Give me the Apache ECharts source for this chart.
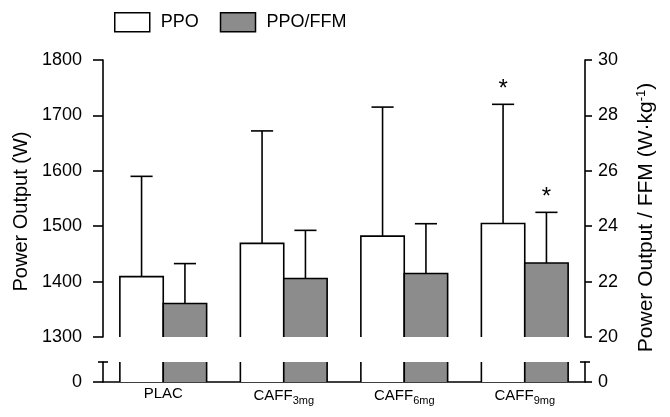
<!DOCTYPE html>
<html><head><meta charset="utf-8">
<script src="https://cdn.jsdelivr.net/npm/echarts@6/dist/echarts.min.js"></script>
<style>html,body{margin:0;padding:0;background:#fff}#c{width:670px;height:417px}</style>
</head><body><div id="c"></div>
<script>
// ---- data ----
const catMain = ['PLAC', 'CAFF', 'CAFF', 'CAFF'];
const catSub = ['', '3mg', '6mg', '9mg'];
const categories = catMain.map((m, i) => m + catSub[i]);
const ppoMean = [1409, 1469, 1482, 1505];
const ppoSD = [181, 203, 233, 215];
const ffmMean = [21.21, 22.11, 22.29, 22.67];
const ffmSD = [1.44, 1.74, 1.80, 1.83];
const ppoSig = [0, 0, 0, 1];
const ffmSig = [0, 0, 0, 1];
const leftTicks = [1300, 1400, 1500, 1600, 1700, 1800];
const rightTicks = [20, 22, 24, 26, 28, 30];
const seriesNames = ['PPO', 'PPO/FFM'];
// ---------------

const FONT = 'Liberation Sans, Arial, sans-serif';
const GRAY = '#8c8c8c';
const LW = 1.6;

function makeRender(side, fill) {
  return function (params, api) {
    const cs = params.coordSys;
    const cat = api.value(0), v = api.value(1), hi = api.value(2), sig = api.value(3);
    const catW = api.size([1, 0])[0];
    const bw = catW * 0.36;
    const c = api.coord([cat, v]);
    const x0 = side < 0 ? c[0] - bw : c[0];
    const x1 = x0 + bw;
    const bottom = cs.y + cs.height;
    const clamped = c[1] < cs.y;
    const top = Math.max(c[1], cs.y);
    const ls = { stroke: '#000', lineWidth: LW, fill: null };
    const children = [{ type: 'rect', shape: { x: x0, y: top, width: bw, height: bottom - top }, style: { fill: fill } }];
    if (!clamped) {
      children.push({ type: 'polyline', shape: { points: [[x0, bottom], [x0, top], [x1, top], [x1, bottom]] }, style: ls });
      const e = api.coord([cat, hi]);
      const xm = (x0 + x1) / 2;
      const cap = bw * 0.255;
      children.push({ type: 'line', shape: { x1: xm, y1: top, x2: xm, y2: e[1] }, style: ls });
      children.push({ type: 'line', shape: { x1: xm - cap, y1: e[1], x2: xm + cap, y2: e[1] }, style: ls });
      if (sig) {
        children.push({ type: 'text', style: { text: '*', x: xm, y: e[1] - 3, align: 'center', verticalAlign: 'bottom', font: '24px ' + FONT, fill: '#000' } });
      }
    } else {
      children.push({ type: 'line', shape: { x1: x0, y1: top, x2: x0, y2: bottom }, style: ls });
      children.push({ type: 'line', shape: { x1: x1, y1: top, x2: x1, y2: bottom }, style: ls });
    }
    return { type: 'group', children: children };
  };
}

const ppoData = ppoMean.map((v, i) => [i, v, v + ppoSD[i], ppoSig[i]]);
const ffmData = ffmMean.map((v, i) => [i, v, v + ffmSD[i], ffmSig[i]]);

const axisLineStyle = { color: '#000', width: LW };
const labelStyle = { color: '#000', fontFamily: FONT, fontSize: 18, formatter: (v) => String(v) };

const chart = echarts.init(document.getElementById('c'), null, { renderer: 'canvas' });
chart.setOption({
  animation: false,
  backgroundColor: '#fff',
  legend: {
    left: 114, top: 12, padding: 0,
    itemWidth: 35, itemHeight: 19, itemGap: 21,
    icon: 'rect',
    textStyle: { color: '#000', fontFamily: FONT, fontSize: 18, padding: [0, 0, 0, 6] },
    data: [
      { name: seriesNames[0], itemStyle: { color: '#fff', borderColor: '#000', borderWidth: 1.5 } },
      { name: seriesNames[1], itemStyle: { color: GRAY, borderColor: '#000', borderWidth: 1.5 } }
    ]
  },
  grid: [
    { left: 103, right: 85, top: 60, height: 277, outerBoundsMode: 'none', containLabel: false },
    { left: 103, right: 85, top: 362, height: 20, outerBoundsMode: 'none', containLabel: false }
  ],
  xAxis: [
    { type: 'category', gridIndex: 0, data: categories, show: false },
    {
      type: 'category', gridIndex: 1, data: categories,
      axisLine: { show: true, lineStyle: axisLineStyle },
      axisTick: { show: false },
      axisLabel: {
        interval: 0,
        margin: 4,
        formatter: function (val, idx) {
          return catSub[idx] ? '{main|' + catMain[idx] + '}{sub|' + catSub[idx] + '}' : '{main|' + catMain[idx] + '}';
        },
        rich: {
          main: { fontFamily: FONT, fontSize: 15, color: '#000' },
          sub: { fontFamily: FONT, fontSize: 11, color: '#000', padding: [9, 0, 0, 0] }
        }
      }
    }
  ],
  yAxis: [
    {
      type: 'value', gridIndex: 0, position: 'left',
      min: leftTicks[0], max: leftTicks[leftTicks.length - 1], interval: leftTicks[1] - leftTicks[0],
      axisLine: { show: true, lineStyle: axisLineStyle },
      axisTick: { show: true, length: 10, lineStyle: axisLineStyle },
      axisLabel: Object.assign({ margin: 21 }, labelStyle),
      splitLine: { show: false },
      name: 'Power Output (W)', nameLocation: 'middle', nameGap: 70, nameRotate: 90,
      nameTextStyle: { color: '#000', fontFamily: FONT, fontSize: 20, padding: [0, 26, 0, 0] }
    },
    {
      type: 'value', gridIndex: 0, position: 'right',
      min: rightTicks[0], max: rightTicks[rightTicks.length - 1], interval: rightTicks[1] - rightTicks[0],
      axisLine: { show: true, lineStyle: axisLineStyle },
      axisTick: { show: true, length: 7, lineStyle: axisLineStyle },
      axisLabel: Object.assign({ margin: 13 }, labelStyle),
      splitLine: { show: false },
      name: 'Power Output / FFM (W·kg{sup|-1})', nameLocation: 'middle', nameGap: 50, nameRotate: 90,
      nameTextStyle: {
        color: '#000', fontFamily: FONT, fontSize: 21, padding: [0, 38, 0, 0],
        rich: { sup: { fontFamily: FONT, fontSize: 13, color: '#000', padding: [0, 0, 10, 0] } }
      }
    },
    {
      type: 'value', gridIndex: 1, position: 'left',
      min: 0, max: leftTicks[0],
      axisLine: { show: true, lineStyle: axisLineStyle, symbol: ['none', 'rect'], symbolSize: [10, LW], symbolOffset: [0, 0] },
      axisTick: { show: true, length: 10, lineStyle: axisLineStyle, customValues: [0] },
      axisLabel: Object.assign({ margin: 21, customValues: [0] }, labelStyle),
      splitLine: { show: false }
    },
    {
      type: 'value', gridIndex: 1, position: 'right',
      min: 0, max: rightTicks[0],
      axisLine: { show: true, lineStyle: axisLineStyle, symbol: ['none', 'rect'], symbolSize: [10, LW], symbolOffset: [0, 0] },
      axisTick: { show: true, length: 7, lineStyle: axisLineStyle, customValues: [0] },
      axisLabel: Object.assign({ margin: 13, customValues: [0] }, labelStyle),
      splitLine: { show: false }
    }
  ],
  series: [
    { name: seriesNames[0], type: 'custom', xAxisIndex: 0, yAxisIndex: 0, data: ppoData, renderItem: makeRender(-1, '#fff'), itemStyle: { color: '#fff', borderColor: '#000' }, encode: { x: 0, y: 1 }, z: 2 },
    { name: seriesNames[1], type: 'custom', xAxisIndex: 0, yAxisIndex: 1, data: ffmData, renderItem: makeRender(1, GRAY), itemStyle: { color: GRAY, borderColor: '#000' }, encode: { x: 0, y: 1 }, z: 2 },
    { name: seriesNames[0], type: 'custom', xAxisIndex: 1, yAxisIndex: 2, data: ppoData, renderItem: makeRender(-1, '#fff'), itemStyle: { color: '#fff', borderColor: '#000' }, encode: { x: 0, y: 1 }, z: 2 },
    { name: seriesNames[1], type: 'custom', xAxisIndex: 1, yAxisIndex: 3, data: ffmData, renderItem: makeRender(1, GRAY), itemStyle: { color: GRAY, borderColor: '#000' }, encode: { x: 0, y: 1 }, z: 2 }
  ]
});
</script></body></html>
